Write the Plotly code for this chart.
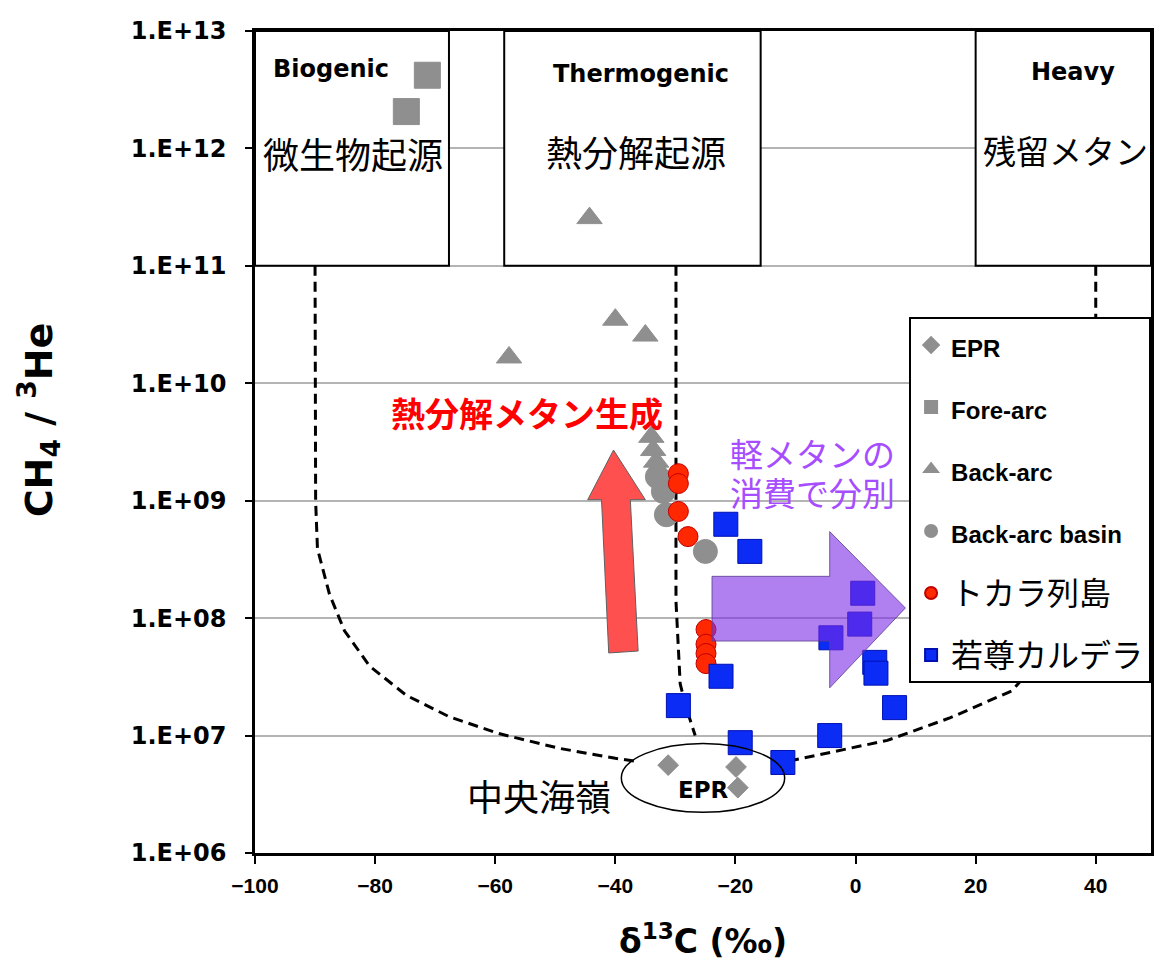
import plotly.graph_objects as go

# ---------------- data ----------------
epr_x = [-31.2, -19.9, -19.6]
epr_y = [5.6e6, 5.4e6, 3.6e6]

forearc_x = [-71.3, -74.8]
forearc_y = [4.2e12, 2.06e12]

backarc_x = [-44.3, -57.7, -40.0, -35.0, -34.0, -33.7, -33.2]
backarc_y = [2.55e11, 1.66e10, 3.48e10, 2.55e10, 3.5e9, 2.7e9, 2.15e9]

basin_x = [-33.0, -32.0, -31.5, -25.0]
basin_y = [1.6e9, 1.2e9, 7.6e8, 3.7e8]

tokara_x = [-29.5, -29.5, -29.5, -27.9, -24.9, -24.9, -24.9, -24.9]
tokara_y = [1.7e9, 1.4e9, 8.1e8, 4.95e8, 8.0e7, 6.0e7, 5.0e7, 4.1e7]

wakamiko_x = [-21.6, -17.6, 1.2, 0.7, -4.1, 3.2, 3.4, -22.4, 6.5, -29.5, -19.2, -12.1, -4.3]
wakamiko_y = [6.3e8, 3.7e8, 1.63e8, 8.9e7, 6.8e7, 4.2e7, 3.4e7, 3.2e7, 1.73e7, 1.8e7, 8.7e6, 5.9e6, 1.0e7]

# dashed field boundaries
left_x = [-90.0, -90.0, -89.9, -89.6, -87.6, -85.1, -80.9, -74.8, -67.7, -59.4, -49.4, -40.0, -36.2]
left_y = [1e11, 6.9e9, 9.8e8, 3.9e8, 1.6e8, 7.8e7, 3.9e7, 2.2e7, 1.45e7, 1.04e7, 7.8e6, 6.4e6, 6.0e6]
mid_x = [-29.9, -29.9, -29.2, -28.2, -26.7]
mid_y = [1e11, 1.39e8, 2.76e7, 1.73e7, 1.0e7]
right_x = [40.0, 40.0, 39.0, 33.5, 26.0, 15.8, 5.3, -11.5]
right_y = [1e11, 2.6e9, 5e8, 6.4e7, 2.4e7, 1.42e7, 9.1e6, 6.0e6]

x_ticks = [-100, -80, -60, -40, -20, 0, 20, 40]
y_ticks = [1e6, 1e7, 1e8, 1e9, 1e10, 1e11, 1e12, 1e13]
y_ticktext = ["1.E+06", "1.E+07", "1.E+08", "1.E+09", "1.E+10", "1.E+11", "1.E+12", "1.E+13"]

X_MAX = 49.2

# ---------------- figure ----------------
fig = go.Figure()

for bx, by in [(left_x, left_y), (mid_x, mid_y), (right_x, right_y)]:
    fig.add_trace(go.Scatter(x=bx, y=by, mode="lines", showlegend=False, hoverinfo="skip",
                             line=dict(color="black", width=3, dash="10px,6px")))


def en(t, size=24):
    return f"<span style=\"font-family:'Liberation Sans';font-size:{size}px\"><b>{t}</b></span>"


def jp(t, size=32):
    return f"<span style=\"font-size:{size}px\">{t}</span>"


GRAY = "#8f8f8f"
series = [
    (en("EPR"), epr_x, epr_y, "diamond", 16, GRAY, GRAY),
    (en("Fore-arc"), forearc_x, forearc_y, "square", 26, GRAY, GRAY),
    (en("Back-arc"), backarc_x, backarc_y, "triangle-up", 22, GRAY, GRAY),
    (en("Back-arc basin"), basin_x, basin_y, "circle", 24, GRAY, GRAY),
    (jp("トカラ列島"), tokara_x, tokara_y, "circle", 20, "#ff2800", "#c00000"),
    (jp("若尊カルデラ"), wakamiko_x, wakamiko_y, "square", 24, "#0a2cf5", "#0010b0"),
]
for i, (name, sx, sy, sym, size, col, lcol) in enumerate(series):
    fig.add_trace(go.Scatter(x=sx, y=sy, mode="markers", name=name, legendgroup=f"g{i}",
                             marker=dict(symbol=sym, size=size, color=col,
                                         line=dict(color=lcol, width=1))))

# ---------------- shapes ----------------
shapes = []
for x0, x1 in [(-100, -67.7), (-58.5, -15.8), (20, X_MAX)]:
    shapes.append(dict(type="rect", xref="x", yref="y", x0=x0, x1=x1, y0=1e11, y1=1e13,
                       fillcolor="white", line=dict(color="black", width=2), layer="between"))


def path(pts):
    return "M" + " L".join(f"{px},{py:.0f}" for px, py in pts) + " Z"


red_arrow = [(-40.3, 2.70e9), (-35.0, 1.02e9), (-37.5, 1.02e9), (-36.2, 5.25e7),
             (-41.1, 5.05e7), (-42.3, 1.02e9), (-44.6, 1.02e9)]
shapes.append(dict(type="path", xref="x", yref="y", path=path(red_arrow),
                   fillcolor="#ff5050", line=dict(color="#606060", width=1), layer="above"))

purple_arrow = [(-23.9, 2.27e8), (-4.3, 2.27e8), (-4.3, 5.46e8), (8.3, 1.22e8),
                (-4.3, 2.55e7), (-4.3, 6.38e7), (-23.9, 6.38e7)]
shapes.append(dict(type="path", xref="x", yref="y", path=path(purple_arrow),
                   fillcolor="rgba(123,43,230,0.6)", line=dict(color="rgba(90,60,140,0.8)", width=1),
                   layer="above"))

shapes.append(dict(type="circle", xref="x", yref="y", x0=-39.0, x1=-11.8, y0=2.22e6, y1=8.55e6,
                   line=dict(color="black", width=1.5), layer="above"))

# ---------------- annotations ----------------
CJK = "Noto Sans CJK JP"
EN = "DejaVu Sans"
ann = []


def add(text, x, y, size, family=CJK, color="black", xref="x", yref="y", **kw):
    ann.append(dict(text=text, x=x, y=y, xref=xref, yref=yref, showarrow=False,
                    xanchor="center", yanchor="middle",
                    font=dict(family=family, size=size, color=color), **kw))


add("<b>Biogenic</b>", -87.4, 12.678, 24, EN)
add("微生物起源", -83.7, 11.958, 36)
add("<b>Thermogenic</b>", -35.8, 12.636, 24, EN)
add("熱分解起源", -36.5, 11.975, 36)
add("<b>Heavy</b>", 36.2, 12.653, 24, EN)
add("残留メタン", 35.0, 11.983, 33)
add("<b>熱分解メタン生成</b>", -54.7, 9.754, 34, color="#ff0000")
add("軽メタンの", -7.1, 9.405, 33, color="#a64dff")
add("消費で分別", -7.1, 9.07, 33, color="#a64dff")
add("中央海嶺", -52.7, 6.492, 36)
add("<b>EPR</b>", -25.4, 6.534, 23, EN)
add("<b>CH<sub>4</sub> / <sup>3</sup>He</b>", -0.242, 0.5266, 38, EN, xref="paper", yref="paper",
    textangle=-90)
add("<b>δ<sup>13</sup>C (‰)</b>", 0.5, -0.1053, 33, EN, xref="paper", yref="paper")

# the page body adds an 8px offset; size and margins compensate for it
fig.update_layout(
    width=1155, height=953,
    margin=dict(l=247, r=9, t=19, b=108),
    paper_bgcolor="white", plot_bgcolor="white",
    shapes=shapes, annotations=ann,
    legend=dict(x=0.73, y=0.652, xanchor="left", yanchor="top", bgcolor="white",
                bordercolor="black", borderwidth=2, tracegroupgap=20, itemsizing="constant",
                font=dict(family=CJK, size=30, color="black")),
    xaxis=dict(range=[-100, X_MAX], tickvals=x_ticks, ticks="outside", ticklen=8, tickwidth=2,
               tickcolor="black", showline=True, linecolor="black", linewidth=2.5, mirror=True,
               showgrid=False, zeroline=False, ticklabelstandoff=4,
               tickfont=dict(family="Liberation Sans", size=21, color="black", weight="bold")),
    yaxis=dict(type="log", range=[6, 13], tickvals=y_ticks, ticktext=y_ticktext, ticks="outside",
               ticklen=7, tickwidth=2, tickcolor="black", showline=True, linecolor="black",
               linewidth=2.5, mirror=True, showgrid=True, gridcolor="#b4b4b4", gridwidth=2,
               zeroline=False, ticklabelstandoff=14,
               tickfont=dict(family=EN, size=24, color="black", weight="bold")),
)

fig.write_html("out.html")
